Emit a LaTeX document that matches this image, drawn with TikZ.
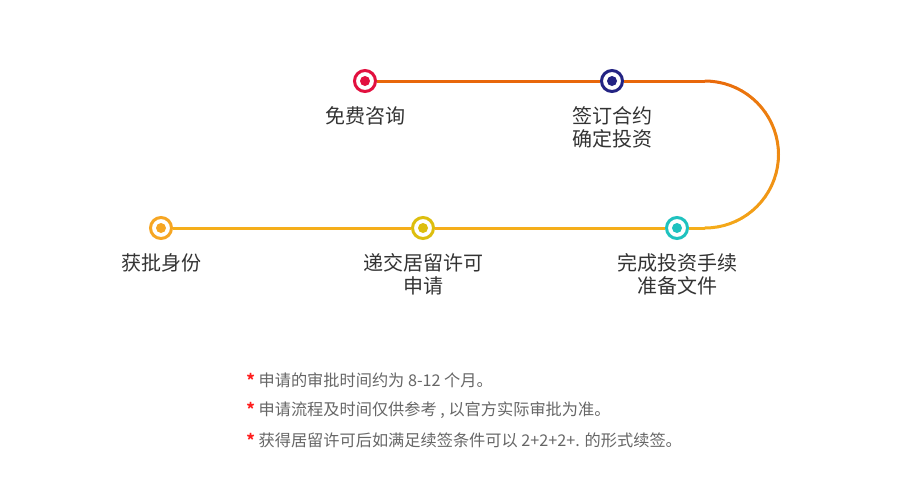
\documentclass[tikz,border=0pt]{standalone}
\usepackage{fontspec}
\setmainfont{Noto Sans CJK SC}
\usetikzlibrary{positioning}
\definecolor{cred}{HTML}{E2103F}
\definecolor{cnavy}{HTML}{232383}
\definecolor{cyell}{HTML}{DDBE0E}
\definecolor{cteal}{HTML}{1FC2BF}
\definecolor{corange}{HTML}{F6A623}
\definecolor{ctop}{HTML}{E8670A}
\definecolor{cbot}{HTML}{F5AE1A}
\definecolor{ctext}{HTML}{333333}
\definecolor{cnote}{HTML}{666666}
\definecolor{cstar}{HTML}{FF2020}
\begin{document}
\begin{tikzpicture}[x=0.5pt,y=-0.5pt,font=\fontsize{10}{11.5}\selectfont,
  step node/.style={circle,draw=#1,fill=white,line width=1.5pt,minimum size=10.5pt,inner sep=0pt,
    path picture={\fill[#1] (path picture bounding box.center) circle (2.5pt);}},
  step text/.style={text=ctext,align=center,inner sep=0pt},
  note text/.style={text=cnote,anchor=west,inner sep=0pt,font=\fontsize{8.1}{9.5}\selectfont}]
  \useasboundingbox (0,0) rectangle (900,500);
  % steps
  \node[step node=cred] (consult) at (365,81) {};
  \node[step node=cnavy] (sign) at (612,81) {};
  \node[step node=cteal] (invest) at (677,228) {};
  \node[step node=cyell] (apply) at (423,228) {};
  \node[step node=corange] (approve) at (161,228) {};
  \coordinate (turntop) at (705,81);
  \coordinate (turnbot) at (705,228);
  % path
  \draw[ctop,line width=1.5pt] (consult) -- (sign);
  \draw[ctop,line width=1.5pt] (sign) -- (turntop);
  \foreach \k in {1,...,36}{
    \pgfmathsetmacro\pct{100*(\k-0.5)/36}
    \draw[cbot!\pct!ctop,line width=1.5pt,line cap=round]
      ({705+73.5*sin((\k-1)*5)},{154.5-73.5*cos((\k-1)*5)}) -- ({705+73.5*sin(\k*5)},{154.5-73.5*cos(\k*5)});
  }
  \draw[cbot,line width=1.5pt] (turnbot) -- (invest);
  \draw[cbot,line width=1.5pt] (invest) -- (apply);
  \draw[cbot,line width=1.5pt] (apply) -- (approve);
  % labels
  \node[step text,below=6.5pt of consult] (consultlbl) {免费咨询};
  \node[step text,below=6.5pt of sign] (signlbl) {签订合约\\确定投资};
  \node[step text,below=6.5pt of approve] (approvelbl) {获批身份};
  \node[step text,below=6.5pt of apply] (applylbl) {递交居留许可\\申请};
  \node[step text,below=6.5pt of invest] (investlbl) {完成投资手续\\准备文件};
  % notes
  \node[note text] (note1) at (246,380) {\textcolor{cstar}{\bfseries *} 申请的审批时间约为 8-12 个月。};
  \node[note text] (note2) at (246,410) {\textcolor{cstar}{\bfseries *} 申请流程及时间仅供参考 , 以官方实际审批为准。};
  \node[note text] (note3) at (246,440) {\textcolor{cstar}{\bfseries *} 获得居留许可后如满足续签条件可以 2+2+2+. 的形式续签。};
\end{tikzpicture}
\end{document}
